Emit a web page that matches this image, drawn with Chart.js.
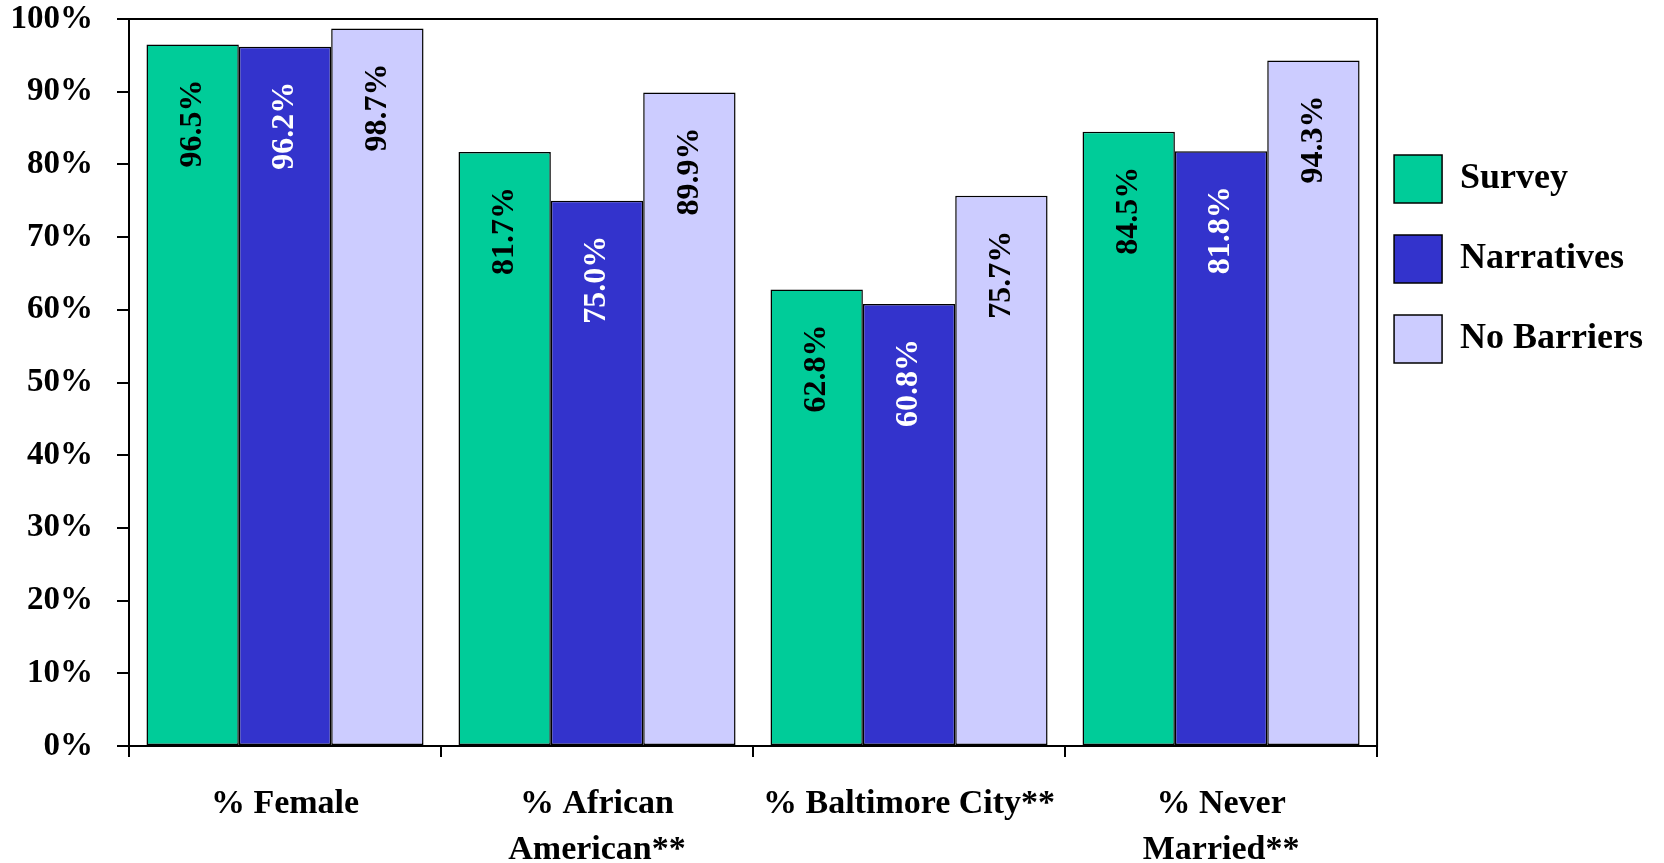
<!DOCTYPE html>
<html>
<head>
<meta charset="utf-8">
<script src="https://cdn.jsdelivr.net/npm/chart.js@4.4.1/dist/chart.umd.min.js"></script>
<style>
  html, body { margin: 0; padding: 0; background: #fff; }
  #wrap { width: 1664px; height: 863px; position: relative; }
</style>
</head>
<body>
<div id="wrap"><canvas id="c" width="1664" height="863"></canvas></div>
<script>
const categories = [['% Female'], ['% African', 'American**'], ['% Baltimore City**'], ['% Never', 'Married**']];
const seriesNames = ['Survey', 'Narratives', 'No Barriers'];
const survey = [96.5, 81.7, 62.8, 84.5];
const narratives = [96.2, 75.0, 60.8, 81.8];
const noBarriers = [98.7, 89.9, 75.7, 94.3];
const yTicks = [0, 10, 20, 30, 40, 50, 60, 70, 80, 90, 100];

const SERIF = '"Liberation Serif", "Times New Roman", serif';
const colors = ['#00CC99', '#3333CC', '#CCCCFF'];
const labelColors = ['#000000', '#FFFFFF', '#000000'];

const frame = {
  id: 'frame',
  afterLayout(chart) {
    const lg = chart.legend;
    if (lg) {
      const dy = -182;
      lg.top += dy; lg.bottom += dy;
      lg.left -= 15; lg.right -= 15;
    }
  },
  afterDatasetsDraw(chart) {
    const {ctx, chartArea: a} = chart;
    ctx.save();
    ctx.strokeStyle = '#000';
    ctx.lineWidth = 2;
    ctx.strokeRect(a.left, a.top, a.right - a.left, a.bottom - a.top);
    ctx.restore();
  }
};

const barLabels = {
  id: 'barLabels',
  afterDatasetsDraw(chart) {
    const ctx = chart.ctx;
    chart.data.datasets.forEach((ds, di) => {
      const meta = chart.getDatasetMeta(di);
      meta.data.forEach((bar, i) => {
        ctx.save();
        ctx.translate(bar.x, bar.y + 35);
        ctx.rotate(-Math.PI / 2);
        ctx.font = 'bold 32px ' + SERIF;
        ctx.fillStyle = labelColors[di];
        ctx.textAlign = 'right';
        ctx.textBaseline = 'middle';
        ctx.fillText(ds.data[i].toFixed(1) + '%', 0, 0);
        ctx.restore();
      });
    });
  }
};

new Chart(document.getElementById('c'), {
  type: 'bar',
  data: {
    labels: categories,
    datasets: [
      { label: seriesNames[0], data: survey, backgroundColor: colors[0] },
      { label: seriesNames[1], data: narratives, backgroundColor: colors[1] },
      { label: seriesNames[2], data: noBarriers, backgroundColor: colors[2] }
    ].map(d => Object.assign(d, { borderColor: '#000', borderWidth: 1.5, borderSkipped: false,
      categoryPercentage: 0.888, barPercentage: 1.0 }))
  },
  options: {
    responsive: false,
    animation: false,
    events: [],
    layout: { padding: { left: 0, top: 19, right: -4, bottom: 0 } },
    plugins: {
      tooltip: { enabled: false },
      legend: {
        position: 'right',
        align: 'center',
        labels: {
          boxWidth: 48, boxHeight: 48, padding: 32,
          color: '#000',
          font: { family: SERIF, size: 36, weight: 'bold' }
        }
      }
    },
    scales: {
      x: {
        grid: { display: true, drawOnChartArea: false, drawTicks: true, tickLength: 11, color: '#000', lineWidth: 2, offset: true },
        border: { display: true, color: '#000', width: 2 },
        ticks: { color: '#000', padding: 24, maxRotation: 0, autoSkip: false,
          font: { family: SERIF, size: 34, weight: 'bold', lineHeight: 1.35 } },
        afterFit(s) { s.height = 117; s.paddingTop = 0; }
      },
      y: {
        min: 0, max: 100,
        afterBuildTicks(s) { s.ticks = yTicks.map(v => ({ value: v })); },
        grid: { display: true, drawOnChartArea: false, drawTicks: true, tickLength: 12, color: '#000', lineWidth: 2 },
        border: { display: true, color: '#000', width: 2 },
        ticks: { color: '#000', padding: 24, callback: v => v + '%',
          font: { family: SERIF, size: 33, weight: 'bold', lineHeight: 1.0 } },
        afterFit(s) { s.width = 129; s.paddingTop = 0; s.paddingBottom = 0; }
      }
    }
  },
  plugins: [frame, barLabels]
});
</script>
</body>
</html>
